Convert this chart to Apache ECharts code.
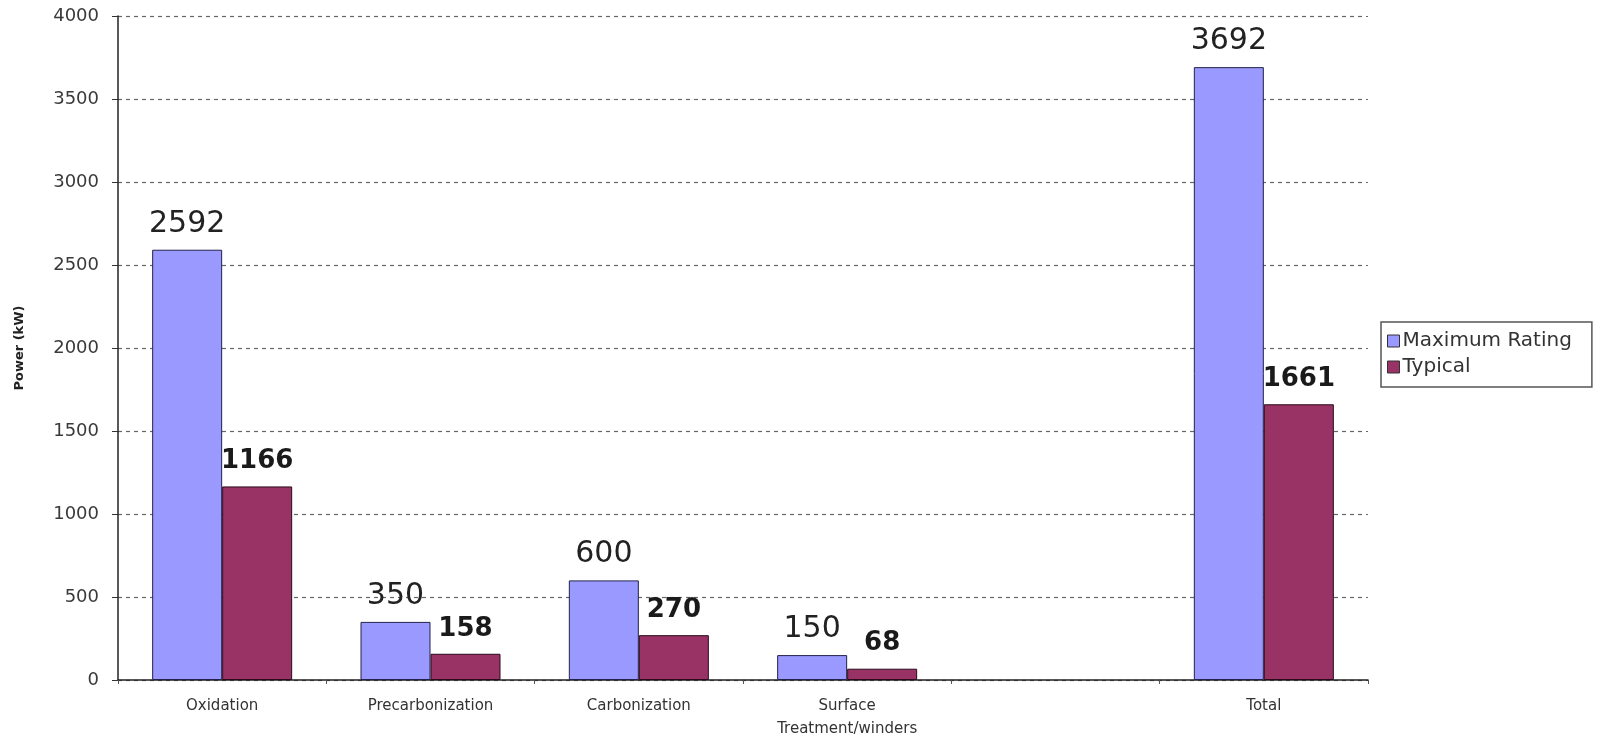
<!DOCTYPE html>
<html>
<head>
<meta charset="utf-8">
<script src="https://cdn.jsdelivr.net/npm/echarts@6/dist/echarts.min.js"></script>
<style>
  html, body { margin: 0; padding: 0; background: #fff; }
  #chart { width: 1603px; height: 739px; }
</style>
</head>
<body>
<div id="chart"></div>
<script>
// Power demand per process stage
const categories = ['Oxidation', 'Precarbonization', 'Carbonization', 'Surface\nTreatment/winders', '', 'Total'];
const maximumRating = [2592, 350, 600, 150, null, 3692];
const typical = [1166, 158, 270, 68, null, 1661];
const yTicks = { min: 0, max: 4000, interval: 500 };

const FONT = 'DejaVu Sans, Verdana, sans-serif';

const chart = echarts.init(document.getElementById('chart'));
chart.setOption({
  animation: false,
  backgroundColor: '#fff',
  grid: { left: 118, right: 235, top: 16, bottom: 59, containLabel: false, outerBoundsMode: 'none' },
  legend: {
    orient: 'vertical',
    left: 1381,
    top: 322,
    padding: [9, 20, 10, 6],
    itemGap: 6,
    itemWidth: 12,
    itemHeight: 12,
    borderColor: '#555',
    borderWidth: 1.5,
    borderRadius: 0,
    textStyle: { fontFamily: FONT, fontSize: 20, color: '#333', padding: [0, 0, 0, -2] },
    data: [
      { name: 'Maximum Rating', icon: 'rect', itemStyle: { borderColor: '#333', borderWidth: 1 } },
      { name: 'Typical', icon: 'rect', itemStyle: { borderColor: '#333', borderWidth: 1 } }
    ]
  },
  xAxis: {
    type: 'category',
    data: categories,
    axisLine: { lineStyle: { color: '#222', width: 1.5 } },
    axisTick: { show: true, length: 4, lineStyle: { color: '#555' } },
    axisLabel: {
      fontFamily: FONT,
      fontSize: 15,
      color: '#333',
      margin: 15,
      lineHeight: 23
    }
  },
  yAxis: {
    type: 'value',
    min: yTicks.min,
    max: yTicks.max,
    interval: yTicks.interval,
    name: 'Power (kW)',
    nameLocation: 'middle',
    nameGap: 92,
    nameRotate: 90,
    nameTextStyle: { fontFamily: FONT, fontSize: 13, fontWeight: 'bold', color: '#222' },
    axisLine: { show: true, lineStyle: { color: '#222', width: 1.5 } },
    axisTick: { show: true, length: 6, inside: false, lineStyle: { color: '#333' } },
    axisLabel: {
      fontFamily: FONT,
      fontSize: 18,
      color: '#3a3a3a',
      margin: 19,
      formatter: (v) => String(v)
    },
    splitLine: { show: true, lineStyle: { color: '#666', type: [4, 4], width: 1.2 } }
  },
  series: [
    {
      name: 'Maximum Rating',
      type: 'bar',
      data: maximumRating,
      barWidth: 70,
      barGap: '0%',
      itemStyle: { color: '#9999FF', borderColor: '#22224a', borderWidth: 1 },
      label: {
        show: true,
        position: 'top',
        distance: 11,
        fontFamily: FONT,
        fontSize: 30,
        color: '#222'
      }
    },
    {
      name: 'Typical',
      type: 'bar',
      data: typical,
      barWidth: 70,
      itemStyle: { color: '#993366', borderColor: '#2a0a1a', borderWidth: 1 },
      label: {
        show: true,
        position: 'top',
        distance: 12,
        fontFamily: FONT,
        fontSize: 26,
        fontWeight: 'bold',
        color: '#1a1a1a'
      }
    }
  ]
});
</script>
</body>
</html>
